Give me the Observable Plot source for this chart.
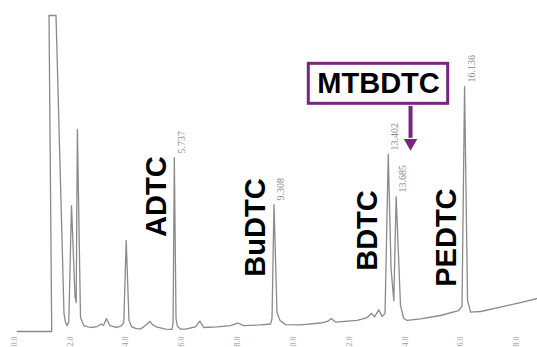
<!DOCTYPE html>
<html><head><meta charset="utf-8">
<script src="https://cdn.jsdelivr.net/npm/d3@7"></script>
<script src="https://cdn.jsdelivr.net/npm/@observablehq/plot@0.6"></script>
<style>body{margin:0;background:#fff;}</style>
</head><body><div id="chart"></div>
<script>
// Chromatogram trace: retention time (min) and detector signal (% of full scale)
const time = [0.107,1.344,1.247,1.498,1.784,1.838,1.899,1.956,2.053,2.178,2.221,2.264,2.375,2.494,2.734,2.974,3.117,3.200,3.307,3.425,3.558,3.690,3.844,3.927,4.013,4.113,4.203,4.346,4.525,4.704,4.858,4.955,5.063,5.421,5.654,5.693,5.737,5.797,5.851,5.958,6.137,6.496,6.650,6.793,7.273,7.750,8.011,8.226,8.825,9.183,9.237,9.308,9.416,9.523,9.720,10.258,10.975,11.225,11.358,11.512,12.289,12.623,12.802,12.910,13.064,13.185,13.286,13.402,13.502,13.601,13.685,13.840,13.959,14.081,14.557,15.274,15.919,16.044,16.136,16.243,16.351,16.709,17.426,18.142,18.751];
const signal = [1.25,1.25,100,100,6.9,4.1,3.1,4.4,40.6,12.2,10.3,64.4,5.6,3.1,2.5,2.8,3.6,3.1,5.3,3.1,2.8,2.5,3.1,4.1,29.7,4.7,2.8,2.2,2.0,3.1,4.4,3.4,2.8,2.0,1.9,4.1,55.6,5.3,2.8,2.0,2.0,2.7,4.5,2.5,2.7,3.1,3.9,3.1,3.3,3.6,5.3,40.9,7.2,4.7,3.4,3.3,3.9,4.4,5.3,4.2,4.7,5.5,6.9,5.8,8.0,5.9,6.9,56.6,20.9,10.9,43.4,9.4,5.3,4.7,5.2,6.25,7.8,9.1,77.8,10.9,7.3,7.5,8.9,10.3,11.6];

// Labelled peaks
const peakTimes = [5.737, 9.308, 13.402, 13.685, 16.136];
const peakSignals = [55.6, 40.9, 56.6, 43.4, 77.8];
const peakLabels = ["5.737", "9.308", "13.402", "13.685", "16.136"];

// Compound names and where they sit
const compounds = ["ADTC", "BuDTC", "BDTC", "PEDTC"];
const compoundTimes = [5.117, 8.645, 12.658, 15.489];
const compoundSignals = [43.4, 33.75, 32.8, 30.6];

// Highlighted compound (boxed, with arrow)
const callout = ["MTBDTC"];
const calloutTime = [13.053];
const calloutSignal = [78.7];
const calloutBox = [{x1: 10.555, x2: 15.549, y1: 72.4, y2: 84.9}];
const arrowTime = [14.2];
const arrowFrom = [71.6];
const arrowTo = [61.6];
const arrowHead = [60.2];

// Axis ticks
const tickValues = [0, 2, 4, 6, 8, 10, 12, 14, 16, 18];

const trace = time.map((t, i) => ({t, s: signal[i]}));
const peaks = peakTimes.map((t, i) => ({t, s: peakSignals[i], label: peakLabels[i]}));
const names = compounds.map((n, i) => ({n, t: compoundTimes[i], s: compoundSignals[i]}));
const calloutData = callout.map((n, i) => ({n, t: calloutTime[i], s: calloutSignal[i]}));
const arrowData = arrowTime.map((t, i) => ({t, s1: arrowFrom[i], s2: arrowTo[i], h: arrowHead[i]}));

const purple = "#7a2582";

const chart = Plot.plot({
  width: 537,
  height: 347,
  marginLeft: 0,
  marginRight: 0,
  marginTop: 15,
  marginBottom: 12,
  style: {background: "#fff", color: "#9a9a9a", fontSize: "8px", fontFamily: "Liberation Serif, serif"},
  x: {domain: [-0.491, 18.749], ticks: tickValues, tickFormat: d => (d % 10).toFixed(1), tickRotate: -90, tickSize: 0, tickPadding: 1, label: null},
  y: {domain: [0, 100], axis: null},
  marks: [
    Plot.line(trace, {x: "t", y: "s", stroke: "#8a8a8a", strokeWidth: 1.3, curve: "linear"}),
    Plot.text(peaks, {x: "t", y: "s", text: "label", rotate: -90, textAnchor: "start", dx: 7, dy: -4, fontSize: 10, fill: "#8a8a8a", fontFamily: "Liberation Serif, serif"}),
    Plot.text(names, {x: "t", y: "s", text: "n", rotate: -90, fontSize: 29, fontWeight: "bold", fill: "#000", fontFamily: "Liberation Sans, Arial, sans-serif"}),
    Plot.rect(calloutBox, {x1: "x1", x2: "x2", y1: "y1", y2: "y2", fill: "#fff", stroke: purple, strokeWidth: 3}),
    Plot.text(calloutData, {x: "t", y: "s", text: "n", fontSize: 29, fontWeight: "bold", fill: "#000", fontFamily: "Liberation Sans, Arial, sans-serif"}),
    Plot.ruleX(arrowData, {x: "t", y1: "s1", y2: "s2", stroke: purple, strokeWidth: 4}),
    Plot.dot(arrowData, {x: "t", y: "h", symbol: "triangle", r: 5, rotate: 180, fill: purple, stroke: "none"})
  ]
});
document.getElementById("chart").appendChild(chart);
</script>
</body></html>
